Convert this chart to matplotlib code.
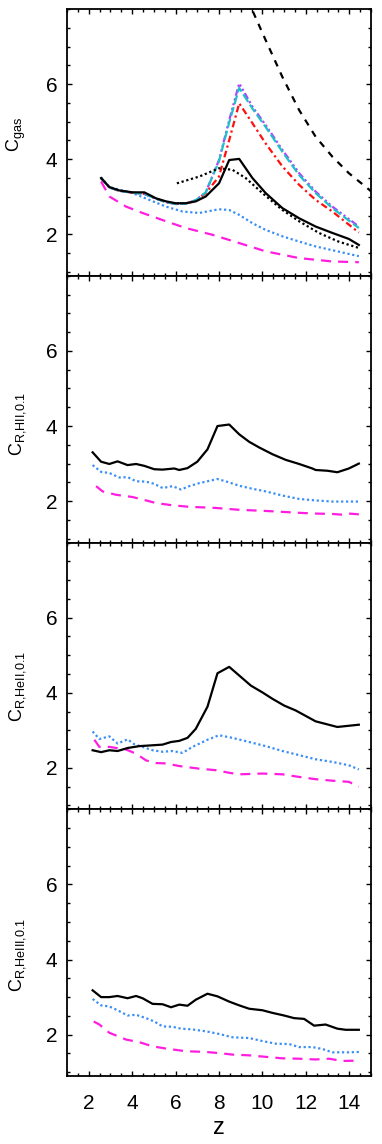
import matplotlib
matplotlib.use("Agg")
import matplotlib.pyplot as plt
from matplotlib.ticker import MultipleLocator, FixedLocator

plt.rcParams['font.family'] = ['Liberation Sans', 'DejaVu Sans']
plt.rcParams['mathtext.fontset'] = 'custom'
plt.rcParams['mathtext.rm'] = 'Liberation Sans'
plt.rcParams['mathtext.it'] = 'Liberation Sans'
plt.rcParams['mathtext.bf'] = 'Liberation Sans'

# ---------------- Panel 1: C_gas ----------------
z1_black = [2.57, 2.95, 3.41, 4.02, 4.56, 5.1, 5.56, 6.0, 6.47, 6.93, 7.39, 8.0, 8.47, 8.93, 9.54, 10.15, 10.92, 11.69, 12.45, 13.22, 13.98, 14.44]
c1_black = [3.50, 3.26, 3.17, 3.12, 3.12, 2.96, 2.88, 2.83, 2.83, 2.88, 3.01, 3.36, 3.98, 4.01, 3.50, 3.10, 2.70, 2.43, 2.21, 2.04, 1.88, 1.72]

z1_bdot = [6.06, 7.09, 8.0, 8.62, 9.23, 10.0, 10.92, 11.69, 12.6, 13.5, 14.44]
c1_bdot = [3.36, 3.54, 3.76, 3.72, 3.50, 3.10, 2.65, 2.35, 2.04, 1.81, 1.64]

z1_bdash = [9.3, 9.54, 10.15, 10.92, 11.69, 12.45, 13.22, 13.98, 14.75, 15.1]
c1_bdash = [8.25, 7.96, 7.17, 6.19, 5.31, 4.60, 4.07, 3.63, 3.27, 3.10]

z1_mag = [2.57, 2.95, 3.72, 4.48, 5.56, 6.47, 7.7, 8.93, 10.15, 11.69, 13.22, 14.44]
c1_mag = [3.41, 3.01, 2.74, 2.57, 2.35, 2.17, 1.99, 1.77, 1.55, 1.37, 1.28, 1.26]

z1_blue = [2.57, 2.95, 4.02, 4.79, 5.56, 6.32, 7.09, 8.0, 8.47, 8.93, 9.54, 10.15, 10.92, 11.69, 12.45, 13.22, 14.44]
c1_blue = [3.52, 3.26, 3.10, 2.92, 2.74, 2.61, 2.57, 2.67, 2.65, 2.52, 2.30, 2.12, 1.95, 1.81, 1.68, 1.58, 1.42]

z1_red = [2.57, 2.95, 3.41, 4.02, 4.56, 5.1, 5.56, 6.0, 6.47, 6.93, 7.39, 8.0, 8.47, 8.93, 9.54, 10.15, 10.92, 11.69, 12.45, 13.22, 14.44]
c1_red = [3.50, 3.25, 3.16, 3.11, 3.08, 2.95, 2.86, 2.81, 2.82, 2.90, 3.10, 3.54, 4.51, 5.49, 4.96, 4.42, 3.81, 3.32, 2.92, 2.61, 2.05]

z1_purple = [2.57, 2.95, 3.41, 4.02, 4.56, 5.1, 5.56, 6.0, 6.47, 6.93, 7.39, 8.0, 8.47, 8.93, 9.54, 10.15, 10.92, 11.69, 12.45, 13.22, 14.44]
c1_purple = [3.50, 3.25, 3.16, 3.11, 3.08, 2.95, 2.86, 2.81, 2.82, 2.91, 3.12, 3.98, 5.04, 6.02, 5.40, 4.91, 4.25, 3.63, 3.14, 2.74, 2.21]

z1_cyan = [2.57, 2.95, 3.41, 4.02, 4.56, 5.1, 5.56, 6.0, 6.47, 6.93, 7.39, 8.0, 8.47, 8.93, 9.54, 10.15, 10.92, 11.69, 12.45, 13.22, 14.44]
c1_cyan = [3.50, 3.25, 3.16, 3.11, 3.08, 2.95, 2.86, 2.81, 2.82, 2.91, 3.12, 3.95, 4.98, 5.90, 5.35, 4.86, 4.20, 3.58, 3.10, 2.70, 2.17]

# ---------------- Panel 2: C_R,HII,0.1 ----------------
z2_black = [2.18, 2.57, 2.95, 3.33, 3.79, 4.18, 4.56, 5.02, 5.40, 5.94, 6.17, 6.55, 7.0, 7.47, 7.93, 8.47, 8.93, 9.39, 9.85, 10.46, 11.07, 11.69, 12.3, 12.45, 12.99, 13.45, 13.98, 14.44]
c2_black = [3.30, 3.05, 2.99, 3.06, 2.96, 2.99, 2.94, 2.85, 2.84, 2.87, 2.83, 2.88, 3.05, 3.38, 4.00, 4.04, 3.78, 3.58, 3.43, 3.25, 3.10, 2.99, 2.87, 2.83, 2.81, 2.77, 2.87, 3.00]

z2_blue = [2.18, 2.57, 2.95, 3.41, 3.79, 4.18, 4.64, 5.02, 5.40, 5.86, 6.25, 6.63, 7.09, 7.93, 8.47, 8.93, 9.54, 10.15, 10.92, 11.69, 12.45, 13.22, 14.44]
c2_blue = [2.96, 2.78, 2.75, 2.63, 2.64, 2.53, 2.52, 2.46, 2.35, 2.40, 2.31, 2.40, 2.48, 2.59, 2.50, 2.41, 2.33, 2.26, 2.15, 2.06, 2.02, 1.99, 1.99]

z2_mag = [2.34, 2.64, 3.26, 4.02, 4.64, 5.1, 5.86, 6.63, 7.85, 8.93, 10.15, 11.69, 12.45, 13.22, 13.68, 13.98, 14.44]
c2_mag = [2.40, 2.26, 2.17, 2.11, 2.02, 1.95, 1.89, 1.85, 1.82, 1.77, 1.74, 1.69, 1.67, 1.66, 1.64, 1.67, 1.65]

# ---------------- Panel 3: C_R,HeII,0.1 ----------------
z3_black = [2.18, 2.57, 2.95, 3.33, 3.79, 4.33, 4.87, 5.40, 5.79, 6.17, 6.55, 6.93, 7.47, 7.93, 8.47, 8.93, 9.47, 10.0, 10.46, 11.0, 11.53, 12.45, 13.45, 14.44]
c3_black = [2.47, 2.42, 2.47, 2.45, 2.53, 2.58, 2.60, 2.62, 2.69, 2.72, 2.80, 3.04, 3.63, 4.52, 4.69, 4.46, 4.19, 4.01, 3.84, 3.66, 3.53, 3.24, 3.09, 3.15]

z3_blue = [2.18, 2.49, 2.95, 3.33, 3.79, 4.1, 4.48, 4.94, 5.40, 5.86, 6.32, 6.78, 7.47, 8.0, 8.62, 9.39, 10.15, 10.92, 11.69, 12.45, 13.22, 13.98, 14.44]
c3_blue = [2.97, 2.77, 2.84, 2.65, 2.76, 2.63, 2.56, 2.47, 2.43, 2.45, 2.40, 2.56, 2.75, 2.87, 2.80, 2.69, 2.58, 2.45, 2.34, 2.23, 2.16, 2.07, 1.96]

z3_mag = [2.26, 2.49, 2.95, 3.72, 4.18, 4.64, 5.1, 5.56, 6.17, 7.09, 7.85, 8.47, 8.93, 10.0, 10.92, 11.69, 12.45, 13.22, 13.98, 14.44]
c3_mag = [2.75, 2.56, 2.56, 2.49, 2.38, 2.20, 2.13, 2.12, 2.05, 1.98, 1.94, 1.87, 1.83, 1.85, 1.83, 1.76, 1.70, 1.66, 1.63, 1.50]

# ---------------- Panel 4: C_R,HeIII,0.1 ----------------
z4_black = [2.18, 2.57, 2.95, 3.33, 3.79, 4.18, 4.48, 4.94, 5.40, 5.79, 6.17, 6.55, 6.93, 7.47, 7.93, 8.47, 8.93, 9.39, 10.0, 10.46, 11.0, 11.46, 11.92, 12.38, 12.91, 13.45, 13.83, 14.44]
c4_black = [3.18, 3.00, 3.00, 3.03, 2.97, 3.03, 2.97, 2.82, 2.81, 2.73, 2.80, 2.77, 2.93, 3.09, 3.02, 2.88, 2.78, 2.69, 2.65, 2.58, 2.51, 2.44, 2.42, 2.24, 2.27, 2.16, 2.13, 2.13]

z4_blue = [2.18, 2.57, 2.95, 3.33, 3.79, 4.18, 4.64, 5.02, 5.40, 5.86, 6.25, 6.78, 7.39, 8.0, 8.62, 9.39, 10.0, 10.61, 11.23, 11.69, 12.3, 12.76, 13.22, 13.98, 14.44]
c4_blue = [2.95, 2.78, 2.75, 2.65, 2.51, 2.53, 2.44, 2.35, 2.22, 2.21, 2.16, 2.14, 2.09, 2.02, 1.93, 1.91, 1.83, 1.76, 1.75, 1.67, 1.67, 1.62, 1.53, 1.53, 1.54]

z4_mag = [2.23, 2.49, 2.95, 3.72, 4.33, 4.94, 5.56, 6.47, 7.39, 8.0, 8.62, 9.39, 10.15, 10.92, 11.69, 12.45, 13.07, 13.68, 14.44]
c4_mag = [2.35, 2.27, 2.05, 1.87, 1.80, 1.69, 1.63, 1.56, 1.54, 1.51, 1.47, 1.45, 1.41, 1.37, 1.36, 1.34, 1.36, 1.30, 1.31]

ylabels = [r'C$_{\mathrm{gas}}$', r'C$_{\mathrm{R{,}HII{,}0.1}}$',
           r'C$_{\mathrm{R{,}HeII{,}0.1}}$', r'C$_{\mathrm{R{,}HeIII{,}0.1}}$']
xticks = [2, 4, 6, 8, 10, 12, 14]
yticks = [2, 4, 6]
xlabel = 'z'

BLUE = '#3a8ff5'
MAG = '#ff1ee0'
RED = '#ff1010'
PURPLE = '#b040ff'
CYAN = '#20c0c8'

fig = plt.figure(figsize=(3.82, 11.44), dpi=100)
left, right = 67 / 382, 371 / 382
top_px, bot_px = 9, 1076
ph = (bot_px - top_px) / 4
axes = []
for i in range(4):
    y0 = 1 - (top_px + (i + 1) * ph) / 1144
    ax = fig.add_axes([left, y0, right - left, ph / 1144])
    axes.append(ax)

lw = 1.6
dash = (0, (4.5, 3.2))
dot = (0, (1, 1.2))
# Panel 1
ax = axes[0]
ax.plot(z1_bdash, c1_bdash, color='black', lw=lw, ls=(0, (3, 3)))
ax.plot(z1_mag, c1_mag, color=MAG, lw=lw, ls=dash)
ax.plot(z1_blue, c1_blue, color=BLUE, lw=lw, ls=dot)
ax.plot(z1_red, c1_red, color=RED, lw=lw, ls=(0, (3, 1.5, 1, 1.5)))
ax.plot(z1_purple, c1_purple, color=PURPLE, lw=lw, ls=(0, (3, 1.2, 1, 1.2, 1, 1.2, 1, 1.2)))
ax.plot(z1_cyan, c1_cyan, color=CYAN, lw=lw, ls=(0, (4, 1.5)))
ax.plot(z1_bdot, c1_bdot, color='black', lw=lw, ls=dot)
ax.plot(z1_black, c1_black, color='black', lw=lw)

for ax, zb, cb, zu, cu, zm, cm in [
        (axes[1], z2_black, c2_black, z2_blue, c2_blue, z2_mag, c2_mag),
        (axes[2], z3_black, c3_black, z3_blue, c3_blue, z3_mag, c3_mag),
        (axes[3], z4_black, c4_black, z4_blue, c4_blue, z4_mag, c4_mag)]:
    ax.plot(zm, cm, color=MAG, lw=lw, ls=dash)
    ax.plot(zu, cu, color=BLUE, lw=lw, ls=dot)
    ax.plot(zb, cb, color='black', lw=lw)

label_y = [0.53, 0.446, 0.46, 0.453]
for i, ax in enumerate(axes):
    ax.set_xlim(1, 15)
    ax.set_ylim(0.9, 8)
    ax.xaxis.set_major_locator(FixedLocator(xticks))
    ax.xaxis.set_minor_locator(MultipleLocator(0.5))
    ax.yaxis.set_major_locator(FixedLocator(yticks))
    ax.yaxis.set_minor_locator(MultipleLocator(0.5))
    ax.tick_params(which='both', direction='in', top=True, right=True, width=1.0)
    ax.tick_params(which='major', length=3.8)
    ax.tick_params(which='minor', length=2.0)
    ax.tick_params(axis='y', which='major', labelsize=15, pad=7)
    ax.tick_params(axis='x', which='major', labelsize=15, pad=13)
    for s in ax.spines.values():
        s.set_linewidth(1.3)
    ax.set_ylabel(ylabels[i], fontsize=13)
    ax.yaxis.set_label_coords(-0.127, label_y[i])
    if i < 3:
        ax.tick_params(axis='x', labelbottom=False)
axes[3].set_xlabel(xlabel, fontsize=17, labelpad=3)

fig.savefig('out.png', dpi=100)
